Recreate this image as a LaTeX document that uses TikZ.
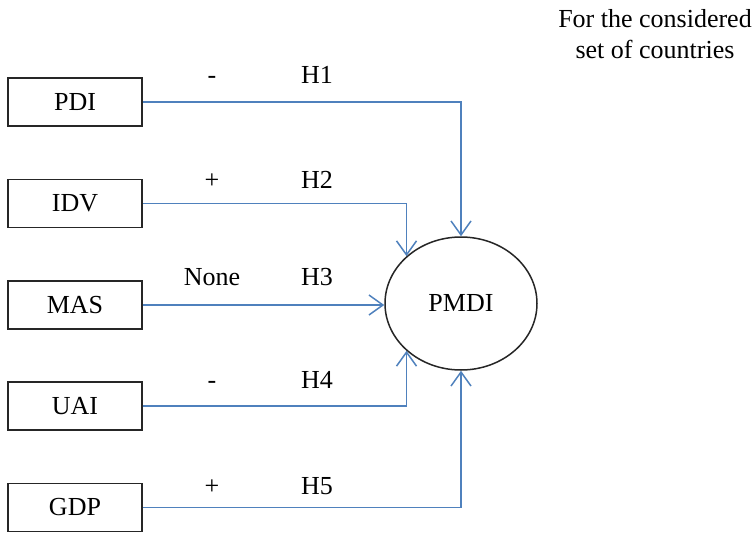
\documentclass[tikz,border=0pt]{standalone}
\usepackage{fontspec}
\setmainfont{Liberation Serif}
\usetikzlibrary{arrows.meta,shapes.geometric}
\definecolor{linkblue}{RGB}{79,129,189}
\tikzset{
  txt/.style={font=\fontsize{26}{31}\selectfont,inner sep=0pt},
  var/.style={txt,draw=black!85,line width=1.5pt,minimum width=134pt,minimum height=48pt},
  link/.style={draw=linkblue,line width=1.5pt,-{Straight Barb[length=14pt,width=20pt]}}
}
\newcommand\DrawHyp[4]{
  node[txt,anchor=base] (s#1) at (212,#2) {#3} node[txt,anchor=base] (h#1) at (317,#2) {#4}
}

\begin{document}
\begin{tikzpicture}[x=1pt,y=-1pt]
\useasboundingbox (0,0) rectangle (756,533);
\node[var] (pdi) at (75,102) {PDI};
\node[var] (idv) at (75,203.5) {IDV};
\node[var] (mas) at (75,305) {MAS};
\node[var] (uai) at (75,406) {UAI};
\node[var] (gdp) at (75,507.5) {GDP};
\node[txt,draw=black!85,line width=1.5pt,ellipse,minimum width=152pt,minimum height=133pt] (pmdi) at (461,303.5) {PMDI};
\node[txt,align=center] (note) at (655,34.5) {For the considered\\set of countries};
\path \DrawHyp{1}{83}{-}{H1} \DrawHyp{2}{188}{+}{H2} \DrawHyp{3}{285}{None}{H3}
      \DrawHyp{4}{388}{-}{H4} \DrawHyp{5}{494}{+}{H5};
\draw[link] (pdi) -| (pmdi.north);
\draw[link] (idv) -| (pmdi.139);
\draw[link] (mas) -- (mas -| pmdi.west);
\draw[link] (uai) -| (pmdi.221);
\draw[link] (gdp) -| (pmdi.south);
\end{tikzpicture}
\end{document}
